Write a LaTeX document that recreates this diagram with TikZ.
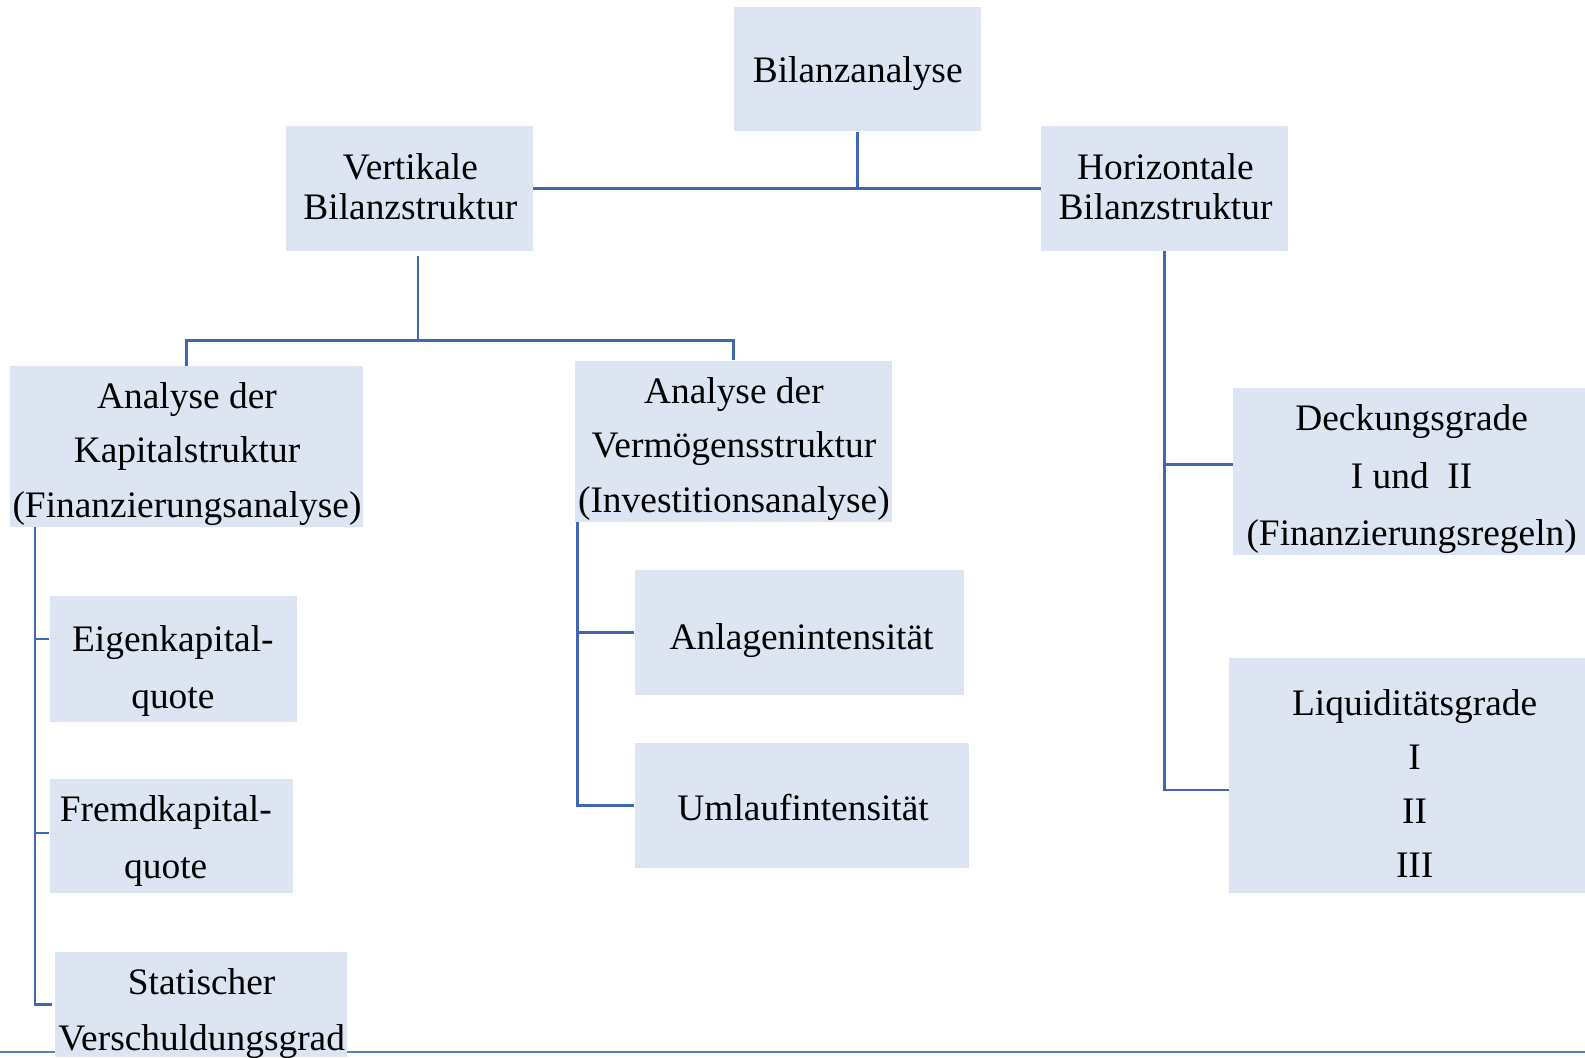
\documentclass[tikz,border=0pt]{standalone}
\usepackage{fontspec}
\setmainfont{Liberation Serif}
\definecolor{boxfill}{HTML}{DCE5F1}
\definecolor{linkblue}{HTML}{4068B2}
\definecolor{rulecol}{HTML}{5282C0}
\tikzset{
  box/.style={fill=boxfill, draw=none, inner sep=0pt},
  lbl/.style={inner sep=0pt, align=center, text=black, yshift=-2pt},
  link/.style={draw=linkblue, line width=1.35pt},
}
\newcommand{\fs}[1]{\fontsize{18.5}{#1}\selectfont}
\begin{document}
\begin{tikzpicture}[x=0.5pt, y=-0.5pt]
\useasboundingbox (0,0) rectangle (1568,1046);
\clip (0,0) rectangle (1568,1046);

% rule along the bottom edge
\coordinate (rl) at (0,1040.5);
\coordinate (rr) at (1568,1040.5);
\draw[draw=rulecol, line width=1pt] (rl) -- (rr);

% boxes
\node[box, minimum width=122pt,   minimum height=61.5pt] (bil)   at (848,68.5)   {};
\node[box, minimum width=122pt,   minimum height=61.5pt] (vert)  at (405,186.5)  {};
\node[box, minimum width=122pt,   minimum height=61.5pt] (hor)   at (1152,186.5) {};
\node[box, minimum width=174.5pt, minimum height=79.5pt] (kap)   at (184.5,441.5) {};
\node[box, minimum width=156.5pt, minimum height=79.5pt] (verm)  at (725.5,436.5) {};
\node[box, minimum width=122.5pt, minimum height=62pt]   (eigen) at (171.5,652)  {};
\node[box, minimum width=120.5pt, minimum height=56pt]   (fremd) at (169.5,827)  {};
\node[box, minimum width=144.5pt, minimum height=52pt]   (stat)  at (198.5,994)  {};
\node[box, minimum width=163pt,   minimum height=62pt]   (anl)   at (791,626)    {};
\node[box, minimum width=165.5pt, minimum height=62pt]   (uml)   at (793.5,797)  {};
\node[box, minimum width=174pt,   minimum height=82.5pt] (deck)  at (1394,466.5) {};
\node[box, minimum width=176pt,   minimum height=116pt]  (liq)   at (1392,767)   {};

% texts
\node[lbl, font=\fs{22}]   (bil-t)   at (848.5,69)    {Bilanzanalyse};
\node[lbl, font=\fs{20}]   (vert-t)  at (406,180.7)   {Vertikale\\Bilanzstruktur};
\node[lbl, font=\fs{20}]   (hor-t)   at (1153,180.7)  {Horizontale\\Bilanzstruktur};
\node[lbl, font=\fs{27}]   (kap-t)   at (185,445)     {Analyse der\\Kapitalstruktur\\(Finanzierungsanalyse)};
\node[lbl, font=\fs{27}]   (verm-t)  at (726,440)     {Analyse der\\Vermögensstruktur\\(Investitionsanalyse)};
\node[lbl, font=\fs{28}]   (eigen-t) at (171,660)     {Eigenkapital-\\quote};
\node[lbl, font=\fs{28}]   (fremd-t) at (164,828)     {Fremdkapital-\\quote};
\node[lbl, font=\fs{27.5}] (stat-t)  at (199.5,998.5) {Statischer\\Verschuldungsgrad};
\node[lbl, font=\fs{22}]   (anl-t)   at (793,630)     {Anlagenintensität};
\node[lbl, font=\fs{22}]   (uml-t)   at (794.5,794.7) {Umlaufintensität};
\node[lbl, font=\fs{28.5}] (deck-t)  at (1396.5,470)  {Deckungsgrade\\I und\ \ II\\(Finanzierungsregeln)};
\node[lbl, font=\fs{26.8}] (liq-t)   at (1399.5,771.2) {Liquiditätsgrade\\I\\II\\III};

% top level
\draw[link] (bil.south) -- (bil.south |- vert.east);
\draw[link] (vert.east) -- (hor.west);

% vertical structure
\coordinate (vstemtop) at (413.5,253);
\coordinate (vstem)    at (413.5,336.5);
\draw[link] (vstemtop) -- (vstem);
\draw[link] (kap.north) |- (vstem) -| (verm.north);

% capital structure branch
\coordinate (kapbus) at ([xshift=12.5pt]kap.south west);
\coordinate (eb) at ([yshift=10pt]eigen.west);
\coordinate (fb) at ([yshift=1.5pt]fremd.west);
\coordinate (sb) at ([xshift=-1.2pt]stat.west);
\draw[link] (kapbus) |- (sb);
\draw[link] (kapbus |- eb) -- (eb);
\draw[link] (kapbus |- fb) -- (fb);

% asset structure branch
\coordinate (vermbus) at ([xshift=1.5pt]verm.south west);
\draw[link] (vermbus) |- (uml.west);
\draw[link] (vermbus |- anl.west) -- (anl.west);

% horizontal structure branch
\coordinate (db) at ([yshift=3.5pt]deck.west);
\coordinate (lb) at ([yshift=-7.3pt]liq.west);
\draw[link] (hor.south) |- (lb);
\draw[link] (hor.south |- db) -- (db);
\end{tikzpicture}
\end{document}
